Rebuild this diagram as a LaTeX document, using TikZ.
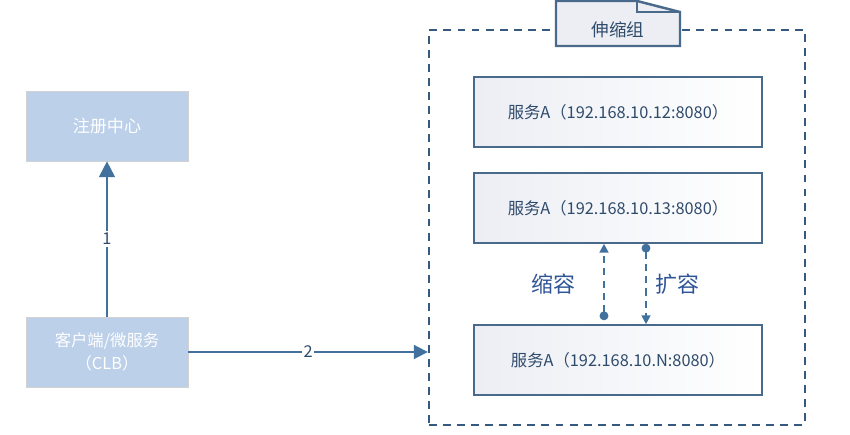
\documentclass[tikz,border=0pt]{standalone}
\usepackage{fontspec}
\setmainfont{Noto Sans CJK SC}
\usetikzlibrary{arrows.meta,calc}
\definecolor{regblue}{HTML}{BCD0E9}
\definecolor{linkblue}{HTML}{41719C}
\definecolor{grpline}{HTML}{35597F}
\definecolor{svcline}{HTML}{4A6A8C}
\definecolor{svctext}{HTML}{2F4B6B}
\definecolor{tabfill}{HTML}{ECEEF4}
\definecolor{scaletext}{HTML}{2F5597}
\begin{document}
\begin{tikzpicture}[x=0.02cm,y=-0.02cm,every node/.style={font=\fontsize{9.3}{13}\selectfont},
  bluebox/.style={draw=gray!35,fill=regblue,text=white,minimum width=3.24cm,minimum height=1.4cm,align=center},
  svcbox/.style={draw=svcline,line width=0.9pt,left color=tabfill,right color=white,text=svctext,minimum width=5.76cm,minimum height=1.4cm},
  link/.style={draw=linkblue,line width=1.1pt},
  scalelink/.style={draw=linkblue,line width=1.1pt,dash pattern=on 4pt off 3pt}]
  \useasboundingbox (0,0) rectangle (850,435);
  % left side
  \node[bluebox,font=\fontsize{9.7}{13}\selectfont] (reg) at (107,126) {注册中心};
  \node[bluebox] (client) at (107,352) {客户端/微服务\\（CLB）};
  \draw[link,-{Triangle[width=9pt,length=9pt]}] (client) -- (reg) node[midway,fill=white,text=svctext,inner sep=1pt] {1};
  % scaling group
  \node[draw=grpline,line width=1.4pt,dash pattern=on 4.5pt off 3.5pt,minimum width=7.52cm,minimum height=7.9cm] (grp) at (617,227.5) {};
  \filldraw[fill=tabfill,draw=svcline,line width=1.4pt] (556,46) -- (556,1) -- (637,1) -- (680,12) -- (680,46) -- cycle;
  \draw[svcline,line width=1.4pt] (637,1) -- (637,12) -- (680,12);
  \node[text=svctext,font=\fontsize{10}{12}\selectfont] (grplbl) at (618,30) {伸缩组};
  \draw[link,-{Triangle[width=8pt,length=8pt]}] (client.east) -- (client.east -| grp.west) node[midway,fill=white,text=svctext,inner sep=1pt] {2};
  \node[svcbox] (svcA) at (618,112) {服务A（192.168.10.12:8080）};
  \node[svcbox] (svcB) at (618,208) {服务A（192.168.10.13:8080）};
  \node[svcbox] (svcN) at (618,360) {服务A（192.168.10.N:8080）};
  % shrink / expand
  \draw[scalelink,{Circle[length=5pt]}-{Triangle[width=5pt,length=5pt]}] ($(svcN.north)+(-14,-4)$) -- ($(svcB.south)+(-14,0)$);
  \draw[scalelink,{Circle[length=5pt]}-{Triangle[width=5pt,length=5pt]}] ($(svcB.south)+(28,0)$) -- ($(svcN.north)+(28,0)$);
  \node[text=scaletext,font=\fontsize{12.5}{14}\selectfont] (shrink) at (553,284) {缩容};
  \node[text=scaletext,font=\fontsize{12.5}{14}\selectfont] (expand) at (677,284) {扩容};
\end{tikzpicture}
\end{document}
